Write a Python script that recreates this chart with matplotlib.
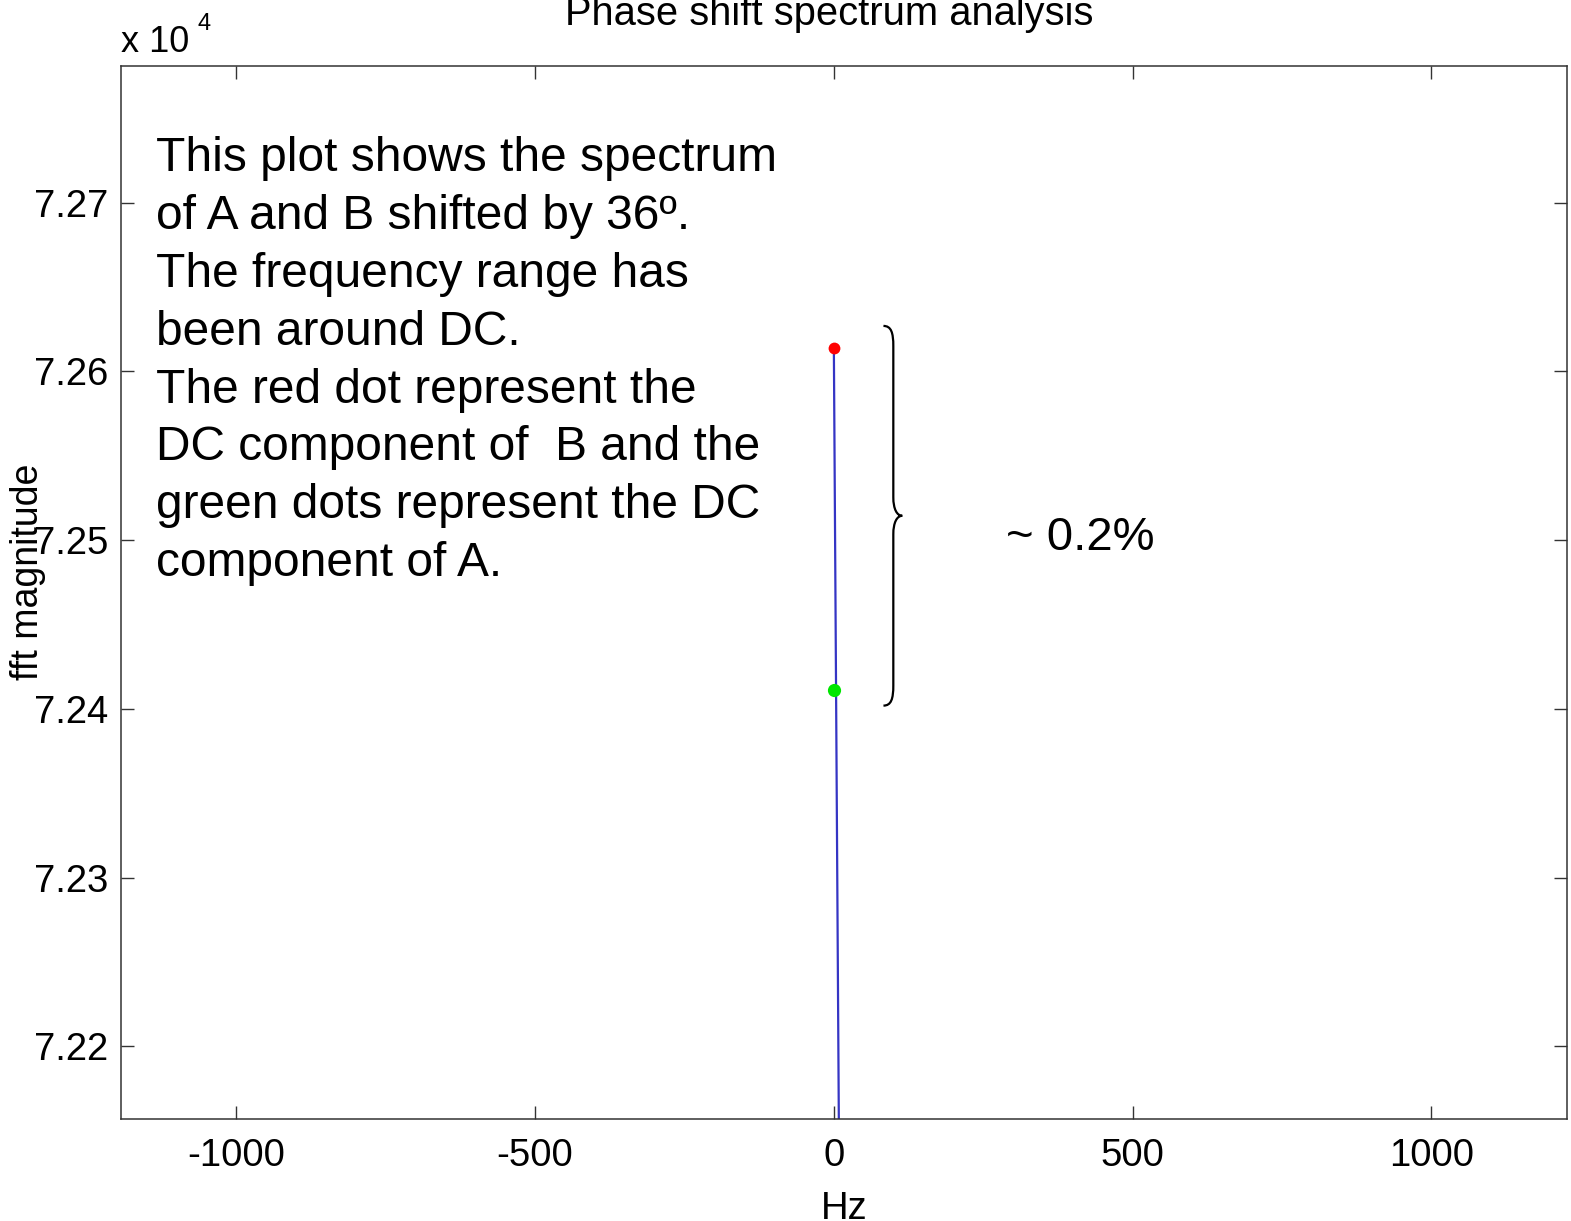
import numpy as np
import matplotlib
matplotlib.use('Agg')
import matplotlib.pyplot as plt
from matplotlib.path import Path
from matplotlib.patches import PathPatch
from matplotlib.ticker import FuncFormatter

plt.rcParams['font.family'] = ['Liberation Sans', 'DejaVu Sans']
plt.rcParams['axes.unicode_minus'] = False

# spectrum around DC (Hz, fft magnitude)
freq_hz = [0.0, 20.0]
fft_mag = [72614.0, 71513.0]
# DC components
dc_b_freq = [0.0]
dc_b_mag = [72614.0]
dc_a_freq = [0.0]
dc_a_mag = [72411.5]

xticks = [-1000, -500, 0, 500, 1000]
yticks = [72200, 72300, 72400, 72500, 72600, 72700]

note = ("This plot shows the spectrum\n"
        "of A and B shifted by 36º.\n"
        "The frequency range has\n"
        "been around DC.\n"
        "The red dot represent the\n"
        "DC component of  B and the\n"
        "green dots represent the DC\n"
        "component of A.")

fig = plt.figure(figsize=(15.71, 12.21), dpi=100)
ax = fig.add_axes([0.0770, 0.0835, 0.9205, 0.8624])

ax.plot(freq_hz, fft_mag, color='#3535c4', lw=1.6, zorder=2)
ax.plot(dc_b_freq, dc_b_mag, 'o', color='#ff0000', ms=8.5, mec='none', zorder=3)
ax.plot(dc_a_freq, dc_a_mag, 'o', color='#00e600', ms=9.5, mec='none', zorder=3)

ax.set_xlim(-1193, 1227)
ax.set_ylim(72157, 72781)
ax.set_xticks(xticks)
ax.set_yticks(yticks)
ax.yaxis.set_major_formatter(FuncFormatter(lambda v, p: f'{v / 1e4:.2f}'))
ax.tick_params(direction='in', length=9.5, width=1, top=True, right=True,
               labelsize=27.5, color='#333333')
ax.tick_params(axis='x', pad=13.5)
ax.tick_params(axis='y', pad=9)
for sp in ax.spines.values():
    sp.set_linewidth(1.1)
    sp.set_color('#333333')

ax.set_xlabel('Hz', fontsize=27.5, labelpad=12.5)
ax.set_ylabel('fft magnitude', fontsize=27)
ax.yaxis.set_label_coords(-0.052, 0.52)
ax.set_title('Phase shift spectrum analysis', fontsize=28.7, pad=29.5, x=0.49)

# exponent label, matlab style
ax.text(0.0, 1.0133, 'x 10', transform=ax.transAxes, fontsize=26, va='baseline')
ax.text(0.0526, 1.034, '4', transform=ax.transAxes, fontsize=17, va='baseline')

ax.text(0.0245, 0.5157, note, transform=ax.transAxes, fontsize=34.5,
        va='baseline', ha='left', linespacing=1.366)

# curly brace spanning the two DC values
x0, x1, x2 = 83.0, 99.5, 114.5
yt, yb = 72627.0, 72402.0
ym = (yt + yb) / 2
verts = [(x0, yt), (x0 + 13, yt), (x1, yt - 4), (x1, yt - 12),
         (x1, ym + 11),
         (x1, ym + 4), (x1 + 6, ym), (x2, ym),
         (x1 + 6, ym), (x1, ym - 4), (x1, ym - 11),
         (x1, yb + 12),
         (x1, yb + 4), (x0 + 13, yb), (x0, yb)]
codes = [Path.MOVETO, Path.CURVE4, Path.CURVE4, Path.CURVE4,
         Path.LINETO,
         Path.CURVE4, Path.CURVE4, Path.CURVE4,
         Path.CURVE4, Path.CURVE4, Path.CURVE4,
         Path.LINETO,
         Path.CURVE4, Path.CURVE4, Path.CURVE4]
ax.add_patch(PathPatch(Path(verts, codes), fill=False, lw=1.6, color='black'))

ax.text(288, 72494, '~ 0.2%', fontsize=34, va='baseline', ha='left')

fig.savefig('out.png', dpi=100)
